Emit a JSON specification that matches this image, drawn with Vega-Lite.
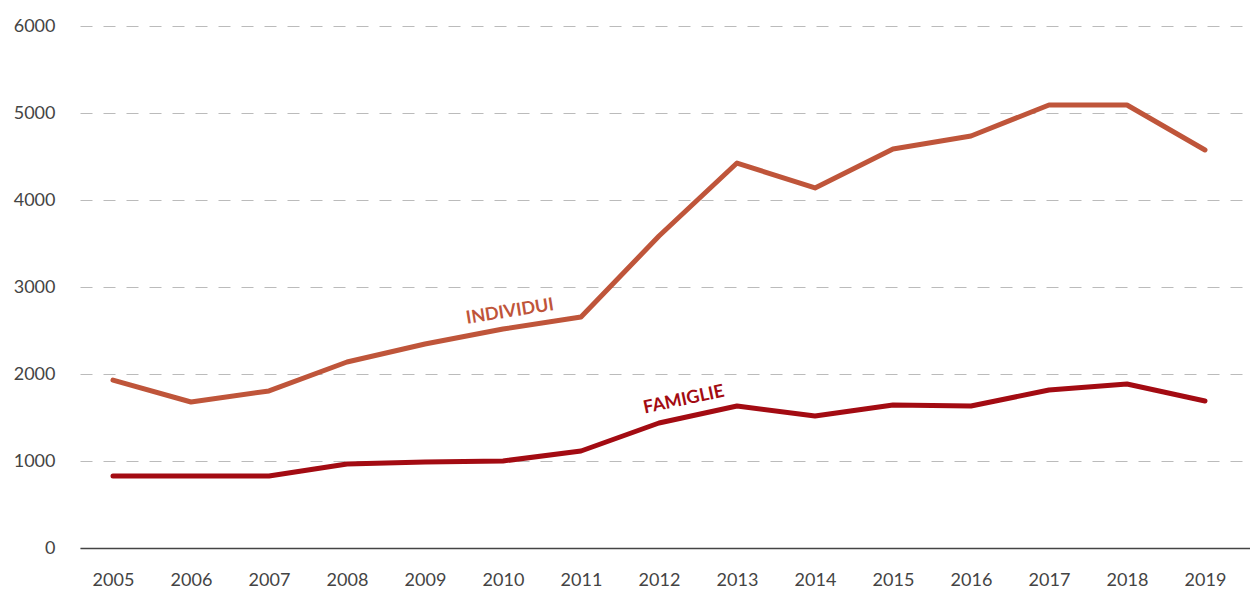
{
  "$schema": "https://vega.github.io/schema/vega-lite/v6.json",
  "width": 1170,
  "height": 522,
  "autosize": {"type": "none"},
  "padding": {"left": 80, "top": 26, "right": 0, "bottom": 42},
  "background": "white",
  "config": {"view": {"stroke": null}, "font": "Lato"},
  "datasets": {
    "series": [
      {"year": 2005, "series": "Individui", "value": 1930},
      {"year": 2006, "series": "Individui", "value": 1678},
      {"year": 2007, "series": "Individui", "value": 1805},
      {"year": 2008, "series": "Individui", "value": 2138},
      {"year": 2009, "series": "Individui", "value": 2345},
      {"year": 2010, "series": "Individui", "value": 2517},
      {"year": 2011, "series": "Individui", "value": 2655},
      {"year": 2012, "series": "Individui", "value": 3586},
      {"year": 2013, "series": "Individui", "value": 4425},
      {"year": 2014, "series": "Individui", "value": 4138},
      {"year": 2015, "series": "Individui", "value": 4586},
      {"year": 2016, "series": "Individui", "value": 4736},
      {"year": 2017, "series": "Individui", "value": 5092},
      {"year": 2018, "series": "Individui", "value": 5092},
      {"year": 2019, "series": "Individui", "value": 4575},
      {"year": 2005, "series": "Famiglie", "value": 828},
      {"year": 2006, "series": "Famiglie", "value": 828},
      {"year": 2007, "series": "Famiglie", "value": 828},
      {"year": 2008, "series": "Famiglie", "value": 966},
      {"year": 2009, "series": "Famiglie", "value": 989},
      {"year": 2010, "series": "Famiglie", "value": 1000},
      {"year": 2011, "series": "Famiglie", "value": 1115},
      {"year": 2012, "series": "Famiglie", "value": 1437},
      {"year": 2013, "series": "Famiglie", "value": 1632},
      {"year": 2014, "series": "Famiglie", "value": 1517},
      {"year": 2015, "series": "Famiglie", "value": 1644},
      {"year": 2016, "series": "Famiglie", "value": 1632},
      {"year": 2017, "series": "Famiglie", "value": 1816},
      {"year": 2018, "series": "Famiglie", "value": 1885},
      {"year": 2019, "series": "Famiglie", "value": 1690}
    ],
    "labels": [
      {"series": "Individui", "label": "INDIVIDUI", "year": 2010.09, "value": 2713},
      {"series": "Famiglie", "label": "FAMIGLIE", "year": 2012.32, "value": 1701}
    ]
  },
  "layer": [
    {
      "data": {"name": "series"},
      "mark": {"type": "line", "strokeWidth": 5, "strokeCap": "round", "strokeJoin": "round"},
      "encoding": {
        "x": {
          "field": "year", "type": "quantitative",
          "scale": {"domain": [2004.577, 2019.577], "nice": false, "zero": false},
          "axis": {
            "title": null, "values": [2005,2006,2007,2008,2009,2010,2011,2012,2013,2014,2015,2016,2017,2018,2019],
            "format": "d", "grid": false, "ticks": false,
            "domainColor": "#444444", "domainWidth": 1.5,
            "labelColor": "#444444", "labelFontSize": 18, "labelPadding": 23, "labelFont": "Lato"
          }
        },
        "y": {
          "field": "value", "type": "quantitative",
          "scale": {"domain": [0, 6000], "nice": false},
          "axis": {
            "title": null, "values": [0,1000,2000,3000,4000,5000,6000],
            "format": "d", "ticks": false, "domain": false,
            "gridColor": "#bbbbbb", "gridDash": [12, 11], "gridWidth": 1,
            "labelColor": "#444444", "labelFontSize": 18, "labelPadding": 25, "labelFont": "Lato"
          }
        },
        "color": {
          "field": "series", "type": "nominal",
          "scale": {"domain": ["Individui", "Famiglie"], "range": ["#BF553A", "#A30B12"]},
          "legend": null
        },
        "detail": {"field": "series"}
      }
    },
    {
      "data": {"name": "labels"},
      "transform": [{"filter": "datum.series === 'Individui'"}],
      "mark": {"type": "text", "angle": -9, "fontSize": 18, "fontWeight": "bold", "font": "Lato", "color": "#BF553A", "align": "center", "baseline": "middle"},
      "encoding": {
        "x": {"field": "year", "type": "quantitative"},
        "y": {"field": "value", "type": "quantitative"},
        "text": {"field": "label"}
      }
    },
    {
      "data": {"name": "labels"},
      "transform": [{"filter": "datum.series === 'Famiglie'"}],
      "mark": {"type": "text", "angle": -12, "fontSize": 18, "fontWeight": "bold", "font": "Lato", "color": "#A30B12", "align": "center", "baseline": "middle"},
      "encoding": {
        "x": {"field": "year", "type": "quantitative"},
        "y": {"field": "value", "type": "quantitative"},
        "text": {"field": "label"}
      }
    }
  ]
}
